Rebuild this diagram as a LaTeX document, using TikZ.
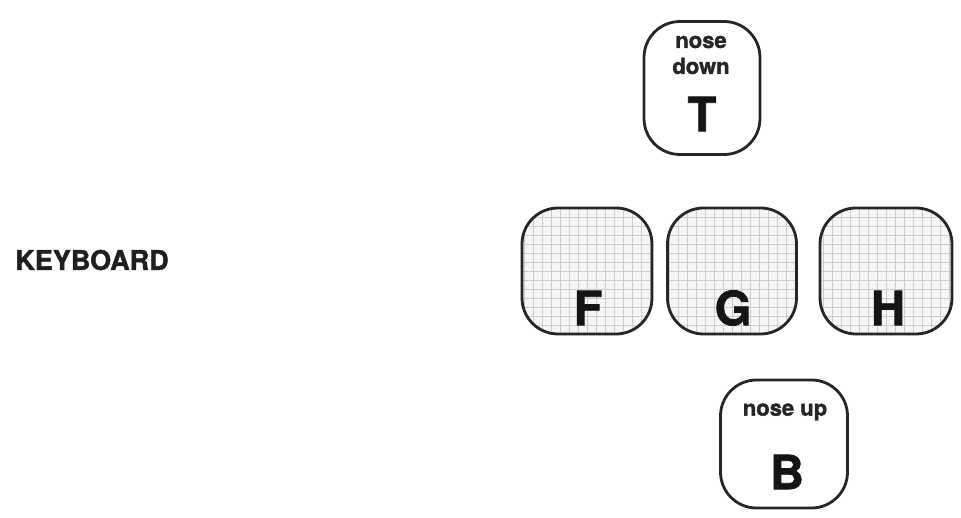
\documentclass[tikz,border=0pt]{standalone}
\usepackage{fontspec}
\setmainfont{TeX Gyre Heros}[BoldFeatures={FakeBold=1.6}]
\begin{document}
\begin{tikzpicture}[x=1pt,y=-1pt,
  keybox/.style={draw=black!85, line width=2.8pt, rounded corners=36pt, inner sep=0pt},
  gridkey/.style={keybox, fill=black!4,
    path picture={\draw[black!20, line width=0.6pt, step=9pt]
      (path picture bounding box.south west) grid (path picture bounding box.north east);}},
  bigletter/.style={font=\fontsize{47}{47}\selectfont\bfseries, text=black!92, inner sep=0pt},
  keylabel/.style={font=\fontsize{22}{22}\selectfont\bfseries, text=black!85, inner sep=0pt},
  title/.style={font=\fontsize{27}{27}\selectfont\bfseries, text=black!88, inner sep=0pt}
]
\useasboundingbox[fill=white] (0,0) rectangle (961,518);
% keys
\node[keybox, minimum width=116pt, minimum height=133pt] (T) at (702,88) {};
\node[gridkey, minimum width=130pt, minimum height=126pt] (F) at (587,271) {};
\node[gridkey, minimum width=129pt, minimum height=126pt] (G) at (732,271) {};
\node[gridkey, minimum width=132pt, minimum height=126pt] (H) at (886,271) {};
\node[keybox, minimum width=127pt, minimum height=128pt] (B) at (784,444) {};
% letters
\node[bigletter] (tT) at (702,114) {T};
\node[bigletter] (tF) at (588,308) {F};
\node[bigletter] (tG) at (733,308) {G};
\node[bigletter] (tH) at (888,308) {H};
\node[bigletter] (tB) at (787,472) {B};
% labels
\node[keylabel] (nd1) at (701,42) {nose};
\node[keylabel] (nd2) at (701,66) {down};
\node[keylabel] (nu) at (785,412) {nose up};
\node[title] (kb) at (92,260) {KEYBOARD};
\end{tikzpicture}
\end{document}
